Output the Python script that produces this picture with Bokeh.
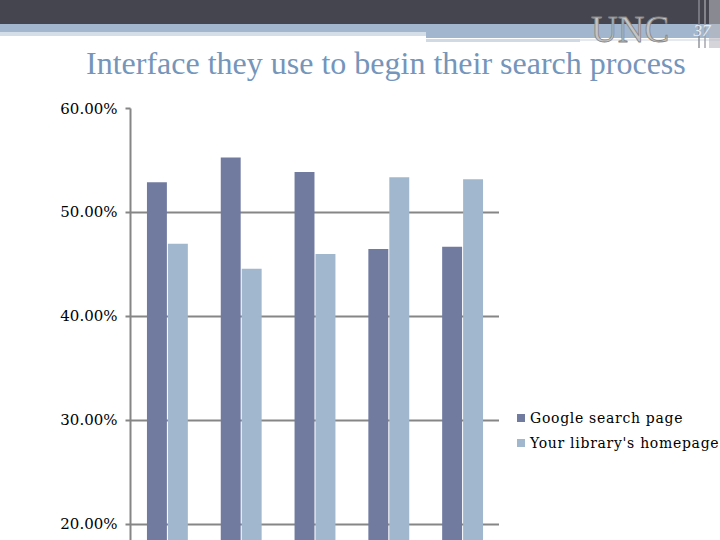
from bokeh.plotting import figure
from bokeh.layouts import column, row
from bokeh.models import Range1d, FixedTicker, PrintfTickFormatter, ColumnDataSource, Div
from bokeh.transform import dodge
from bokeh.embed import file_html
from bokeh.resources import INLINE

# ---- data ----
categories = ["Group 1", "Group 2", "Group 3", "Group 4", "Group 5"]
google_search_page = [52.9, 55.3, 53.9, 46.5, 46.7]
library_homepage = [47.0, 44.6, 46.0, 53.4, 53.2]
series_names = ["Google search page", "Your library's homepage"]
y_ticks = [20, 30, 40, 50, 60]
title_text = "Interface they use to begin their search process"
logo_text = "UNC"
page_number = "37"

GOOGLE = "#717ba0"
LIBRARY = "#a1b7cd"
GRID = "#868686"
SERIF = "DejaVu Serif"
TITLE_COLOR = "#7595ba"


def box(left, top, w, h, color, extra=""):
    return (f'<div style="position:absolute;left:{left}px;top:{top}px;width:{w}px;'
            f'height:{h}px;background:{color};{extra}"></div>')


# ---- slide header with title ----
header_html = (
    '<div style="position:relative;width:720px;height:84px;overflow:hidden;background:white;">'
    + box(0, 0, 720, 24, "#45454f")
    + box(0, 24, 720, 8, "#a2b7cd")
    + box(0, 32, 426, 4, "#d3dee8")
    + box(426, 32, 294, 6, "#a2b7cd")
    + box(426, 39, 154, 3, "#d0dae4")
    + box(580, 39, 140, 2, "#e4eaf0")
    + box(698, 0, 2, 48, "#8c8c96", "opacity:0.7;")
    + box(704, 0, 2, 48, "#a0a0a8", "opacity:0.7;")
    + box(709, 0, 11, 48, "#b8b8c0", "opacity:0.6;")
    + f'<div style="position:absolute;left:580px;top:15px;width:100px;height:29px;text-align:center;'
      f'font-family:\'Liberation Serif\';font-size:37px;line-height:29px;color:#c4c4c4;'
      f'-webkit-text-stroke:0.8px #858585;white-space:nowrap;">{logo_text}</div>'
    + f'<div style="position:absolute;left:684px;top:22px;width:36px;text-align:center;'
      f'font-family:\'Liberation Serif\';font-style:italic;font-size:17px;line-height:17px;'
      f'color:#e6ecf2;white-space:nowrap;">{page_number}</div>'
    + f'<div style="position:absolute;left:0px;top:47px;width:720px;text-align:left;'
      f'padding-left:86px;box-sizing:border-box;font-family:\'Liberation Serif\';'
      f'font-size:32px;line-height:32px;color:{TITLE_COLOR};white-space:nowrap;">{title_text}</div>'
    + '</div>'
)
header = Div(text=header_html, width=720, height=84, margin=0)

# ---- chart ----
p = figure(width=499, height=456, x_range=categories, y_range=Range1d(18.4615, 60),
           x_axis_location=None, toolbar_location=None, output_backend="svg",
           min_border_left=130, min_border_right=0, min_border_top=24, min_border_bottom=0,
           title=None, margin=0)
p.outline_line_color = None
p.xgrid.visible = False
p.ygrid.grid_line_color = GRID
p.ygrid.grid_line_width = 2
p.ygrid.ticker = FixedTicker(ticks=y_ticks)

src = ColumnDataSource(dict(cat=categories, g=google_search_page, l=library_homepage))
p.vbar(x=dodge("cat", -0.142, range=p.x_range), top="g", bottom=0, width=0.27,
       source=src, color=GOOGLE, line_color=None)
p.vbar(x=dodge("cat", 0.142, range=p.x_range), top="l", bottom=0, width=0.27,
       source=src, color=LIBRARY, line_color=None)

ax = p.yaxis[0]
ax.ticker = FixedTicker(ticks=y_ticks)
ax.formatter = PrintfTickFormatter(format="%.2f%%")
ax.axis_line_color = GRID
ax.axis_line_width = 2
ax.major_tick_line_color = GRID
ax.major_tick_line_width = 2
ax.major_tick_out = 5
ax.major_tick_in = 0
ax.minor_tick_line_color = None
ax.major_label_text_font = SERIF
ax.major_label_text_font_size = "15px"
ax.major_label_text_color = "black"
ax.major_label_standoff = 8

# ---- legend (right of the chart) ----
legend_rows = ""
for i, (name, color) in enumerate(zip(series_names, [GOOGLE, LIBRARY])):
    legend_rows += box(18, 330 + 25 * i, 8, 8, color)
    legend_rows += (f'<div style="position:absolute;left:31px;top:{324 + 25 * i}px;'
                    f'font-family:\'DejaVu Serif\';font-size:14px;line-height:20px;'
                    f'letter-spacing:0.7px;color:black;white-space:nowrap;">{name}</div>')
legend_html = ('<div style="position:relative;width:221px;height:456px;background:white;">'
               + legend_rows + '</div>')
legend_div = Div(text=legend_html, width=221, height=456, margin=0)

layout = column(header, row(p, legend_div, margin=0, spacing=0), margin=0, spacing=0)
open("out.html", "w").write(file_html(layout, INLINE))
